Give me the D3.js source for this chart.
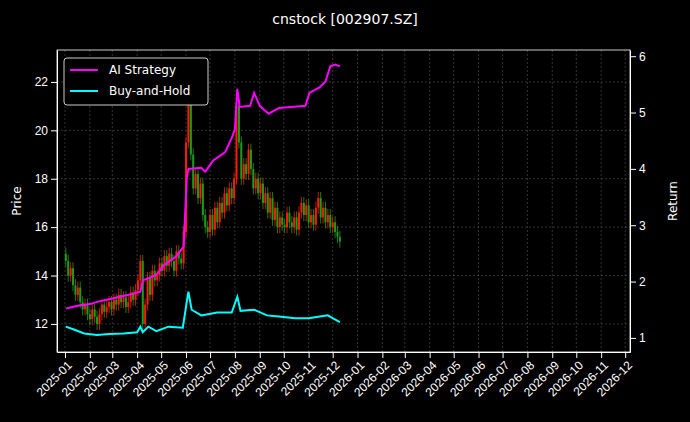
<!DOCTYPE html><html><head><meta charset="utf-8"><script src="https://cdn.jsdelivr.net/npm/d3@7"></script>
<style>body{margin:0;background:#000}svg{font-family:"DejaVu Sans",sans-serif}</style></head><body><svg id="c" width="690" height="422"></svg><script>
const startDate="2025-01-02", stepDays=3;
const closes=[14.6,14.0,14.3,13.6,13.2,13.5,12.9,12.6,12.8,12.4,
12.2,12.6,12.3,12.0,12.4,12.8,12.5,12.7,12.9,12.6,
13.0,12.8,13.2,12.9,13.1,12.7,12.9,13.3,13.0,13.4,
13.8,14.6,12.0,12.8,13.9,13.2,14.2,13.8,14.0,14.5,
14.2,14.8,14.4,14.9,14.6,14.2,15.0,14.7,14.5,15.8,
19.5,21.5,19.0,17.6,18.2,17.2,17.8,16.5,16.0,15.8,
16.5,15.9,16.8,16.2,17.0,16.6,17.4,16.9,17.6,17.2,18.0,
21.0,19.5,18.0,18.6,18.2,19.2,18.4,17.6,18.0,17.4,
17.8,17.0,17.4,16.6,17.2,16.3,16.8,16.0,16.4,16.1,
16.0,16.6,16.2,16.0,16.4,15.9,16.6,17.0,16.5,16.9,
16.2,16.5,16.1,16.8,17.2,16.4,16.8,16.2,16.5,16.0,
16.2,15.8,15.6,15.4];
const firstOpen=14.9, wick=0.25;
const strategy=[["2025-01-02",1.52],["2025-01-10",1.55],["2025-01-20",1.58],["2025-02-01",1.60],["2025-02-10",1.64],["2025-03-01",1.70],["2025-03-20",1.76],["2025-04-05",1.82],["2025-04-08",2.02],["2025-04-25",2.12],["2025-05-05",2.30],["2025-05-20",2.45],["2025-05-29",2.62],["2025-06-02",3.85],["2025-06-04",4.0],["2025-06-20",4.02],["2025-06-25",3.95],["2025-07-05",4.15],["2025-07-20",4.3],["2025-07-28",4.55],["2025-08-01",4.7],["2025-08-04",5.42],["2025-08-07",5.1],["2025-08-20",5.12],["2025-08-25",5.35],["2025-09-01",5.12],["2025-09-12",4.98],["2025-09-25",5.08],["2025-10-10",5.1],["2025-10-28",5.12],["2025-11-02",5.35],["2025-11-15",5.45],["2025-11-22",5.55],["2025-11-28",5.82],["2025-12-04",5.85],["2025-12-10",5.82]];
const buyhold=[["2025-01-02",1.2],["2025-01-12",1.15],["2025-01-25",1.08],["2025-02-10",1.05],["2025-02-25",1.07],["2025-03-15",1.08],["2025-04-01",1.1],["2025-04-05",1.2],["2025-04-08",1.1],["2025-04-15",1.2],["2025-04-25",1.12],["2025-05-10",1.2],["2025-05-28",1.18],["2025-06-02",1.65],["2025-06-04",1.82],["2025-06-08",1.5],["2025-06-20",1.4],["2025-07-10",1.45],["2025-07-28",1.45],["2025-08-04",1.73],["2025-08-08",1.48],["2025-08-25",1.5],["2025-09-10",1.4],["2025-09-25",1.38],["2025-10-15",1.35],["2025-11-01",1.35],["2025-11-15",1.38],["2025-11-25",1.4],["2025-12-01",1.35],["2025-12-10",1.28]];
const priceTicks=[12,14,16,18,20,22], retTicks=[1,2,3,4,5,6];

const svg=d3.select("#c"), L=57,R=630,T=50,B=352;
const p=d3.timeParse("%Y-%m-%d");
const x=d3.scaleTime().domain([new Date(2024,11,22),new Date(2026,11,7)]).range([L,R]);
const y=d3.scaleLinear().domain([10.84,23.32]).range([B,T]);
const y2=d3.scaleLinear().domain([0.75,6.11]).range([B,T]);
const months=d3.timeMonth.range(new Date(2025,0,1),new Date(2026,11,2));
const g=svg.append("g");
g.selectAll(".gx").data(months).join("line").attr("x1",d=>x(d)).attr("x2",d=>x(d)).attr("y1",T).attr("y2",B).attr("stroke","#555").attr("stroke-width",0.6).attr("stroke-dasharray","2,2");
g.selectAll(".gy").data(priceTicks).join("line").attr("x1",L).attr("x2",R).attr("y1",d=>y(d)).attr("y2",d=>y(d)).attr("stroke","#555").attr("stroke-width",0.6).attr("stroke-dasharray","2,2");
const s0=p(startDate);
const candles=closes.map((c,i)=>{const o=i?closes[i-1]:firstOpen;return {d:d3.timeDay.offset(s0,i*stepDays),o,c,h:Math.max(o,c)+wick,l:Math.min(o,c)-wick};});
const cg=g.append("g");
candles.forEach(k=>{const col=k.c>=k.o?"#ff1a00":"#1a9e1a";const cx=x(k.d);
cg.append("line").attr("x1",cx).attr("x2",cx).attr("y1",y(k.h)).attr("y2",y(k.l)).attr("stroke",col).attr("stroke-width",0.8);
cg.append("rect").attr("x",cx-1).attr("width",2).attr("y",y(Math.max(k.o,k.c))).attr("height",Math.max(0.8,Math.abs(y(k.o)-y(k.c)))).attr("fill",col);});
const line=d3.line().x(d=>x(p(d[0]))).y(d=>y2(d[1]));
g.append("path").attr("d",line(strategy)).attr("fill","none").attr("stroke","#ff00ff").attr("stroke-width",2);
g.append("path").attr("d",line(buyhold)).attr("fill","none").attr("stroke","#00ffff").attr("stroke-width",2);
g.append("rect").attr("x",L).attr("y",T).attr("width",R-L).attr("height",B-T).attr("fill","none").attr("stroke","#fff").attr("stroke-width",0.8);
const ax=svg.append("g").attr("transform",`translate(0,${B})`).call(d3.axisBottom(x).tickValues(months).tickFormat(d3.timeFormat("%Y-%m")).tickSizeOuter(0));
ax.selectAll("text").attr("transform","rotate(-45)").attr("text-anchor","end").attr("dx","-0.4em").attr("dy","0.5em");
svg.append("g").attr("transform",`translate(${L},0)`).call(d3.axisLeft(y).tickValues(priceTicks).tickSizeOuter(0));
svg.append("g").attr("transform",`translate(${R},0)`).call(d3.axisRight(y2).tickValues(retTicks).tickFormat(d3.format("d")).tickSizeOuter(0));
svg.selectAll(".tick text").attr("fill","#fff").style("font-size","12px");
svg.selectAll(".tick line").attr("stroke","#fff");
svg.selectAll(".domain").attr("stroke","#fff");
svg.append("text").attr("x",345).attr("y",24).attr("text-anchor","middle").attr("fill","#fff").style("font-size","14px").text("cnstock [002907.SZ]");
svg.append("text").attr("transform",`translate(21,${(T+B)/2}) rotate(-90)`).attr("text-anchor","middle").attr("fill","#fff").style("font-size","12px").text("Price");
svg.append("text").attr("transform",`translate(677,${(T+B)/2}) rotate(-90)`).attr("text-anchor","middle").attr("fill","#fff").style("font-size","12px").text("Return");
const lg=svg.append("g").attr("transform","translate(64,58)");
lg.append("rect").attr("width",144).attr("height",47).attr("rx",3).attr("fill","#000").attr("stroke","#ccc");
[["AI Strategy","#ff00ff"],["Buy-and-Hold","#00ffff"]].forEach((e,i)=>{
lg.append("line").attr("x1",6).attr("x2",34).attr("y1",12+i*21).attr("y2",12+i*21).attr("stroke",e[1]).attr("stroke-width",2);
lg.append("text").attr("x",45).attr("y",16+i*21).attr("fill","#fff").style("font-size","12px").text(e[0]);});
</script></body></html>
